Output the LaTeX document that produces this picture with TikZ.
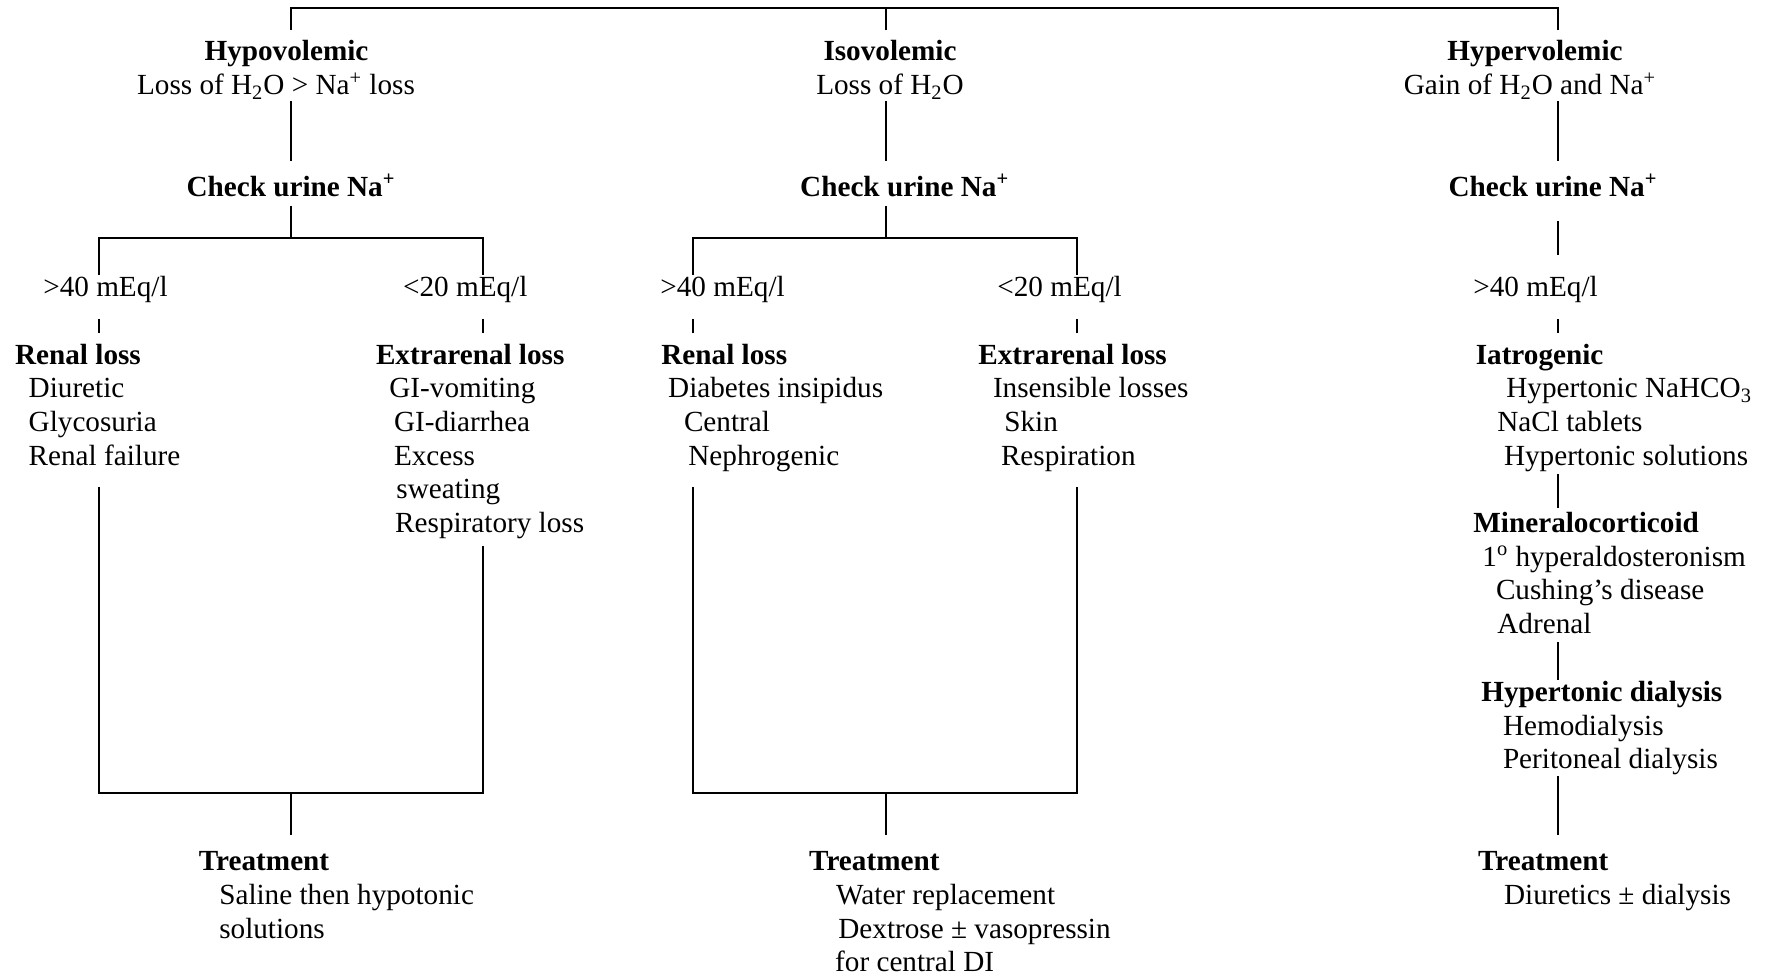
\documentclass[tikz,border=0pt]{standalone}
\usepackage{fontspec}
\setmainfont{Liberation Serif}
\usepackage{tikz}

\newcommand{\ind}[1]{\hspace*{#1pt}}

\begin{document}
\begin{tikzpicture}[
    x=0.5pt, y=-0.5pt,
    font=\fontsize{14.6}{16.8}\selectfont,
    head/.style={inner sep=0pt, anchor=base, font=\fontsize{14.6}{16.8}\selectfont\bfseries},
    sub/.style={inner sep=0pt, anchor=base},
    block/.style={inner sep=0pt, anchor=base west, align=left},
    link/.style={line width=1pt}
]
\useasboundingbox (0,0) rectangle (1769,974);

% Define nodes
% top row
\node[head] (hypo) at (286.5,61) {Hypovolemic};
\node[sub] (hypoSub) at (276,94.8) {Loss of H\textsubscript{2}O > Na\textsuperscript{+} loss};
\node[head] (iso) at (890,61) {Isovolemic};
\node[sub] (isoSub) at (890,94.8) {Loss of H\textsubscript{2}O};
\node[head] (hyper) at (1535,61) {Hypervolemic};
\node[sub] (hyperSub) at (1530,94.8) {Gain of H\textsubscript{2}O and Na\textsuperscript{+}};

\node[head] (check1) at (291,196.3) {Check urine Na\textsuperscript{+}};
\node[head] (check2) at (904.7,196.3) {Check urine Na\textsuperscript{+}};
\node[head] (check3) at (1553,196.3) {Check urine Na\textsuperscript{+}};

% urine values
\node[block] (gt1) at (42.9,296.7) {>40 mEq/l};
\node[block] (lt1) at (402.7,296.7) {<20 mEq/l};
\node[block] (gt2) at (660,296.7) {>40 mEq/l};
\node[block] (lt2) at (997,296.7) {<20 mEq/l};
\node[block] (gt3) at (1473,296.7) {>40 mEq/l};

% causes (placed at the baseline of their last line)
\node[block] (renal1) at (14.7,465.1) {\textbf{Renal loss}\\ \ind{6.8}Diuretic\\ \ind{6.8}Glycosuria\\ \ind{6.8}Renal failure};
\node[block] (extra1) at (375.6,532.2) {\textbf{Extrarenal loss}\\ \ind{6.7}GI-vomiting\\ \ind{9}GI-diarrhea\\ \ind{9}Excess\\ \ind{10.2}sweating\\ \ind{9.6}Respiratory loss};
\node[block] (renal2) at (661,465.1) {\textbf{Renal loss}\\ \ind{3.4}Diabetes insipidus\\ \ind{11.3}Central\\ \ind{13.5}Nephrogenic};
\node[block] (extra2) at (978,465.1) {\textbf{Extrarenal loss}\\ \ind{7.3}Insensible losses\\ \ind{13}Skin\\ \ind{11.3}Respiration};
\node[block] (iatro) at (1475.4,465.1) {\textbf{Iatrogenic}\\ \ind{15.3}Hypertonic NaHCO\textsubscript{3}\\ \ind{10.8}NaCl tablets\\ \ind{14.1}Hypertonic solutions};
\node[block] (miner) at (1473,633.2) {\textbf{Mineralocorticoid}\\ \ind{4.5}1\textsuperscript{o} hyperaldosteronism\\ \ind{11.3}Cushing's disease\\ \ind{12}Adrenal};
\node[block] (dialysis) at (1481,768.8) {\textbf{Hypertonic dialysis}\\ \ind{10.8}Hemodialysis\\ \ind{10.8}Peritoneal dialysis};

% treatment
\node[block] (treat1) at (198.5,938) {\textbf{Treatment}\\ \ind{10.2}Saline then hypotonic\\ \ind{10.2}solutions};
\node[block] (treat2) at (808.8,971.6) {\textbf{Treatment}\\ \ind{13.5}Water replacement\\ \ind{14.6}Dextrose ± vasopressin\\ \ind{13}for central DI};
\node[block] (treat3) at (1477.7,904.5) {\textbf{Treatment}\\ \ind{13}Diuretics ± dialysis};

% Define line ends
\coordinate (top) at (885.5,7.9);
\coordinate (hypoIn) at (291,30.5);
\coordinate (isoIn) at (885.5,30.5);
\coordinate (hyperIn) at (1558,30.5);

% hypovolemic branch
\coordinate (hypoOut) at (291,101);
\coordinate (check1In) at (291,161);
\coordinate (check1Out) at (291,206);
\coordinate (split1) at (291,238);
\coordinate (gt1In) at (99.3,275);
\coordinate (lt1In) at (482.8,275);
\coordinate (gt1Out) at (99.3,319);
\coordinate (renal1In) at (99.3,333);
\coordinate (lt1Out) at (482.8,319);
\coordinate (extra1In) at (482.8,333);
\coordinate (renal1Out) at (99.3,487);
\coordinate (extra1Out) at (482.8,546);
\coordinate (join1) at (291,793);
\coordinate (treat1In) at (291,835);

% isovolemic branch
\coordinate (isoOut) at (885.5,101);
\coordinate (check2In) at (885.5,161);
\coordinate (check2Out) at (885.5,206);
\coordinate (split2) at (885.5,238);
\coordinate (gt2In) at (692.6,275);
\coordinate (lt2In) at (1077.2,275);
\coordinate (gt2Out) at (692.6,319);
\coordinate (renal2In) at (692.6,333);
\coordinate (lt2Out) at (1077.2,319);
\coordinate (extra2In) at (1077.2,333);
\coordinate (renal2Out) at (692.6,487);
\coordinate (extra2Out) at (1077.2,487);
\coordinate (join2) at (885.5,793);
\coordinate (treat2In) at (885.5,835);

% hypervolemic branch
\coordinate (hyperOut) at (1558,101);
\coordinate (check3In) at (1558,161);
\coordinate (check3Out) at (1558,221);
\coordinate (gt3In) at (1558,255);
\coordinate (gt3Out) at (1558,319);
\coordinate (iatroIn) at (1558,333);
\coordinate (iatroOut) at (1558,474);
\coordinate (minerIn) at (1558,508);
\coordinate (minerOut) at (1558,642);
\coordinate (dialysisIn) at (1558,680);
\coordinate (dialysisOut) at (1558,776);
\coordinate (treat3In) at (1558,835);

% Define lines
\draw[link] (hypoIn) |- (top) -| (hyperIn);
\draw[link] (top) -- (isoIn);

\draw[link] (hypoOut) -- (check1In);
\draw[link] (check1Out) -- (split1);
\draw[link] (gt1In) |- (split1) -| (lt1In);
\draw[link] (gt1Out) -- (renal1In);
\draw[link] (lt1Out) -- (extra1In);
\draw[link] (renal1Out) |- (join1) -| (extra1Out);
\draw[link] (join1) -- (treat1In);

\draw[link] (isoOut) -- (check2In);
\draw[link] (check2Out) -- (split2);
\draw[link] (gt2In) |- (split2) -| (lt2In);
\draw[link] (gt2Out) -- (renal2In);
\draw[link] (lt2Out) -- (extra2In);
\draw[link] (renal2Out) |- (join2) -| (extra2Out);
\draw[link] (join2) -- (treat2In);

\draw[link] (hyperOut) -- (check3In);
\draw[link] (check3Out) -- (gt3In);
\draw[link] (gt3Out) -- (iatroIn);
\draw[link] (iatroOut) -- (minerIn);
\draw[link] (minerOut) -- (dialysisIn);
\draw[link] (dialysisOut) -- (treat3In);

\end{tikzpicture}
\end{document}
